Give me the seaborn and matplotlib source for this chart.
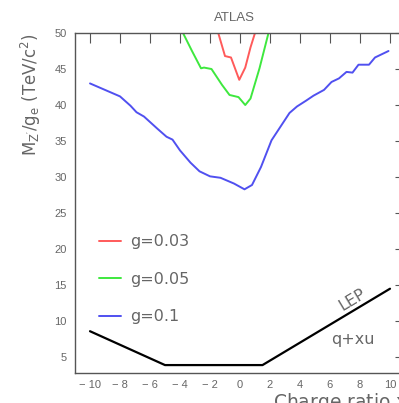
import numpy as np
import pandas as pd
import matplotlib
matplotlib.use("Agg")
import matplotlib.pyplot as plt
import seaborn as sns
from matplotlib.ticker import MultipleLocator

# ---- data ----
blue_x = [-10, -9, -8, -7.3, -6.9, -6.4, -5.5, -4.9, -4.5, -4.0, -3.3, -2.7, -2.0, -1.3, -0.4, 0.3,
          0.8, 1.4, 2.1, 2.7, 3.3, 3.8, 4.4, 4.9, 5.6, 6.1, 6.6, 7.1, 7.5, 7.9, 8.6, 9.0, 9.9]
blue_y = [43.0, 42.1, 41.2, 39.9, 39.0, 38.4, 36.7, 35.6, 35.2, 33.7, 32.0, 30.8, 30.1, 29.9, 29.1, 28.3,
          28.9, 31.4, 35.1, 37.0, 38.9, 39.8, 40.6, 41.3, 42.1, 43.2, 43.7, 44.6, 44.5, 45.6, 45.6, 46.6, 47.5]
green_x = [-3.8, -3.2, -2.6, -2.4, -1.9, -1.2, -0.7, -0.1, 0.35, 0.7, 1.3, 1.9]
green_y = [50.0, 47.5, 45.1, 45.2, 45.0, 42.8, 41.4, 41.1, 40.0, 40.9, 45.1, 50.0]
red_x = [-1.45, -1.0, -0.6, -0.05, 0.35, 0.7, 1.0]
red_y = [50.0, 46.8, 46.6, 43.5, 45.2, 48.0, 50.0]
lep_x = [-10, -5, 1.5, 10]
lep_y = [8.6, 3.9, 3.9, 14.5]
labels = ["g=0.03", "g=0.05", "g=0.1"]
x_ticks = [-10, -8, -6, -4, -2, 0, 2, 4, 6, 8, 10]
y_ticks = [5, 10, 15, 20, 25, 30, 35, 40, 45, 50]

df = pd.concat([
    pd.DataFrame({"x": red_x, "y": red_y, "g": labels[0]}),
    pd.DataFrame({"x": green_x, "y": green_y, "g": labels[1]}),
    pd.DataFrame({"x": blue_x, "y": blue_y, "g": labels[2]}),
])

sns.set_style("white")
plt.rcParams["font.family"] = ["Liberation Sans", "DejaVu Sans"]
plt.rcParams["mathtext.fontset"] = "dejavusans"
plt.rcParams["mathtext.default"] = "regular"

gray = "#666666"
fig = plt.figure(figsize=(3.99, 4.03), dpi=100)
ax = fig.add_axes([75 / 399, 1 - 373 / 403, (405 - 75) / 399, (373 - 33) / 403])

palette = {labels[0]: "#ff5a5a", labels[1]: "#3ee83e", labels[2]: "#5050f0"}
sns.lineplot(data=df, x="x", y="y", hue="g", palette=palette, sort=False,
             estimator=None, ax=ax, linewidth=1.4)
sns.lineplot(x=lep_x, y=lep_y, color="black", linewidth=1.6, ax=ax, sort=False,
             estimator=None, legend=False)

ax.set_xlim(-11, 11)
ax.set_ylim(2.8, 50)
ax.set_xticks(x_ticks)
ax.set_yticks(y_ticks)
ax.set_xticklabels([str(v).replace("-", "\u2212 ") for v in x_ticks])
ax.yaxis.set_minor_locator(MultipleLocator(1))
ax.tick_params(axis="both", which="both", direction="in", top=True, right=True,
               colors="#555555", labelcolor=gray, labelsize=8)
ax.tick_params(axis="both", which="major", length=7, width=0.8)
ax.tick_params(axis="y", which="minor", length=3.5, width=0.7)
ax.tick_params(axis="x", pad=5)
ax.tick_params(axis="y", pad=6)
for s in ax.spines.values():
    s.set_color("#555555")
    s.set_linewidth(1.0)

ax.set_xlabel("")
ax.set_ylabel("M$_{Z'}$/g$_e$ (TeV/c$^2$)", color=gray, fontsize=12, labelpad=8,
              loc="top", family="DejaVu Sans")

leg = ax.legend(loc="upper left", bbox_to_anchor=(0.028, 0.45), frameon=False,
                prop={"family": "DejaVu Sans", "size": 11.5},
                handlelength=1.4, handletextpad=0.55, labelspacing=1.4)
for t in leg.get_texts():
    t.set_color(gray)

ax.text(7.5, 12.9, "LEP", rotation=31, ha="center", va="center", fontsize=11.5,
        color=gray, family="DejaVu Sans")
ax.text(7.5, 7.4, "q+xu", ha="center", va="center", fontsize=11.5, color=gray,
        family="DejaVu Sans")

fig.text(234 / 399, 1 - 18 / 403, "ATLAS", ha="center", va="center", fontsize=9.5, color=gray)
fig.text(273 / 399, 1 - 391 / 403, "Charge ratio x$_u$", ha="left", va="top",
         fontsize=13.5, color=gray, family="DejaVu Sans")

fig.savefig("out.png", dpi=100)
